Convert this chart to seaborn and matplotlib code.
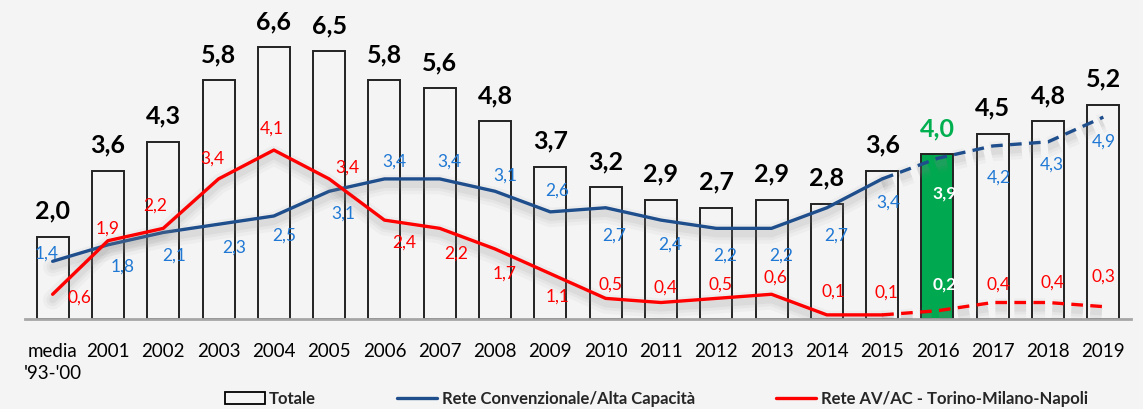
import matplotlib
matplotlib.use("Agg")
import matplotlib.pyplot as plt
import matplotlib.patheffects as pe
from matplotlib.patches import Patch
from matplotlib.lines import Line2D
import seaborn as sns
import pandas as pd

categories = ["media\n'93-'00", "2001", "2002", "2003", "2004", "2005", "2006", "2007",
              "2008", "2009", "2010", "2011", "2012", "2013", "2014", "2015", "2016",
              "2017", "2018", "2019"]
totale = [2.0, 3.6, 4.3, 5.8, 6.6, 6.5, 5.8, 5.6, 4.8, 3.7, 3.2, 2.9, 2.7, 2.9, 2.8, 3.6, 4.0, 4.5, 4.8, 5.2]
convenzionale = [1.4, 1.8, 2.1, 2.3, 2.5, 3.1, 3.4, 3.4, 3.1, 2.6, 2.7, 2.4, 2.2, 2.2, 2.7, 3.4, 3.9, 4.2, 4.3, 4.9]
av_ac = [0.6, 1.9, 2.2, 3.4, 4.1, 3.4, 2.4, 2.2, 1.7, 1.1, 0.5, 0.4, 0.5, 0.6, 0.1, 0.1, 0.2, 0.4, 0.4, 0.3]
last_actual = 15      # index of last consuntivo (2015); later values dashed
highlight = 16        # 2016 bar highlighted

# label offsets (pixels) for the data labels
blue_off = [(-6, -8), (15, 22), (11, 23), (16, 23), (10, 20), (14, 22), (10, -17), (10, -17),
            (10, -16), (7, -21), (9, 28), (9, 25), (9, 27), (10, 27), (9, 28), (6, 24),
            (7, 35), (6, 32), (4, 23), (0, 25)]
red_off = [(27, 3), (0, -12), (-8, -23), (-6, -20), (-2, -21), (18, -11), (20, 23), (16, 25),
           (10, 25), (7, 23), (5, -14), (5, -15), (4, -14), (4, -17), (7, -23), (4, -22),
           (7, -26), (6, -18), (4, -20), (0, -30)]

BG = "#f4f4f4"
BLUE = "#1f4e8c"
BLUE_TXT = "#1f78d4"
RED = "#ff0000"
GREEN = "#00a84f"
GREEN_TXT = "#00b050"

sns.set_theme(style="white")
FONT = ["Lato", "DejaVu Sans"]
plt.rcParams["font.family"] = FONT

W, H = 1143, 409
fig = plt.figure(figsize=(W / 100, H / 100), dpi=100, facecolor=BG)
ax = fig.add_axes([25 / W, 90 / H, 1106 / W, 7.6 * 41.2 / H])
ax.set_facecolor(BG)

df = pd.DataFrame({"cat": categories, "tot": totale})
sns.barplot(data=df, x="cat", y="tot", color=BG, edgecolor="#222222",
            linewidth=1.4, width=0.58, saturation=1, ax=ax, zorder=2)
for i, p in enumerate(ax.patches):
    if i == highlight:
        p.set_facecolor(GREEN)

shadow = [pe.SimpleLineShadow(offset=(0, -4), shadow_color="#888888", alpha=0.06, linewidth=14),
          pe.SimpleLineShadow(offset=(0, -4), shadow_color="#888888", alpha=0.08, linewidth=9),
          pe.SimpleLineShadow(offset=(0, -4), shadow_color="#888888", alpha=0.10, linewidth=5),
          pe.Normal()]

xs = list(range(len(categories)))
for vals, col in [(convenzionale, BLUE), (av_ac, RED)]:
    sns.lineplot(x=xs[:last_actual + 1], y=vals[:last_actual + 1], color=col, linewidth=2.4,
                 ax=ax, zorder=4, path_effects=shadow)
    ln = sns.lineplot(x=xs[last_actual:], y=vals[last_actual:], color=col, linewidth=2.4,
                      ax=ax, zorder=4, path_effects=shadow)
    ln.lines[-1].set_dashes([3.5, 2.2])

# labels
for i, v in enumerate(totale):
    ax.annotate(f"{v:.1f}".replace(".", ","), (i, v), xytext=(0, 14), textcoords="offset pixels",
                ha="center", va="bottom", fontsize=18, fontweight="bold",
                color=GREEN_TXT if i == highlight else "black", zorder=6)
for i, v in enumerate(convenzionale):
    dx, dy = blue_off[i]
    ax.annotate(f"{v:.1f}".replace(".", ","), (i, v), xytext=(dx, -dy), textcoords="offset pixels",
                ha="center", va="center", fontsize=12.5,
                fontweight="bold" if i == highlight else "normal",
                color="white" if i == highlight else BLUE_TXT, zorder=6)
for i, v in enumerate(av_ac):
    dx, dy = red_off[i]
    ax.annotate(f"{v:.1f}".replace(".", ","), (i, v), xytext=(dx, -dy), textcoords="offset pixels",
                ha="center", va="center", fontsize=12.5,
                fontweight="bold" if i == highlight else "normal",
                color="white" if i == highlight else RED, zorder=6)

ax.set_xlim(-0.5, len(categories) - 0.5)
ax.set_ylim(0, 7.6)
ax.set_xlabel("")
ax.set_ylabel("")
ax.set_yticks([])
for s in ["top", "right", "left"]:
    ax.spines[s].set_visible(False)
ax.spines["bottom"].set_color("#a6a6a6")
ax.spines["bottom"].set_linewidth(2)
ax.spines["bottom"].set_zorder(3)
ax.tick_params(axis="x", length=0, pad=17, labelsize=13.5, labelcolor="black")
for t in ax.get_xticklabels():
    t.set_linespacing(1.35)

handles = [Patch(facecolor=BG, edgecolor="black", linewidth=1.3),
           Line2D([0], [0], color=BLUE, linewidth=2.4),
           Line2D([0], [0], color=RED, linewidth=2.4)]
labels = ["Totale", "Rete Convenzionale/Alta Capacità", "Rete AV/AC - Torino-Milano-Napoli"]
fig.legend(handles, labels, ncol=3, loc="center", bbox_to_anchor=(0.574, 10 / H),
           frameon=False, prop={"weight": "bold", "size": 12, "family": FONT},
           handlelength=2.4, handleheight=0.7, handletextpad=0.25, columnspacing=4.9)

fig.savefig("out.png", dpi=100, facecolor=BG)
